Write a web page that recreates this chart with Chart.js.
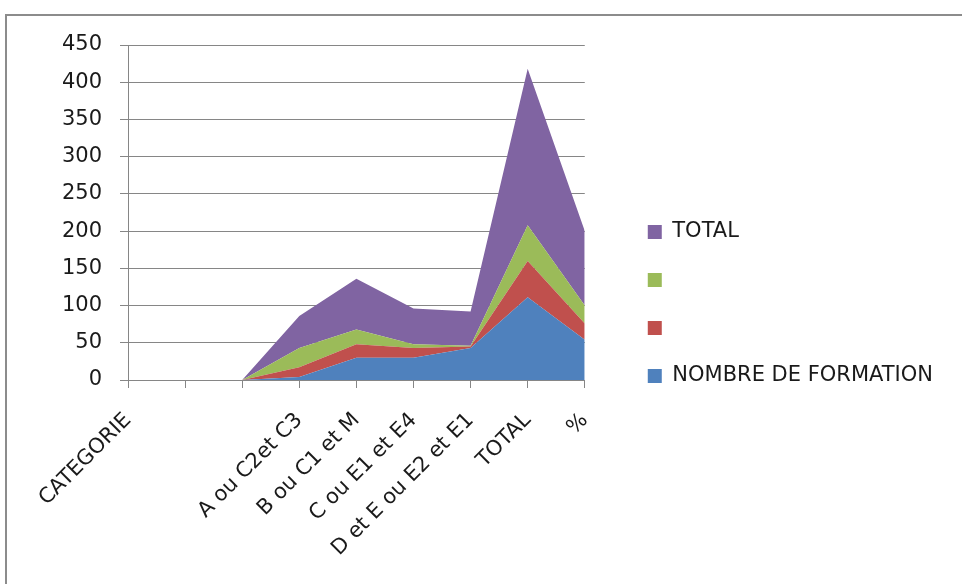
<!DOCTYPE html>
<html lang="fr">

<head>
    <meta charset="UTF-8">
    <meta name="viewport" content="width=device-width, initial-scale=1.0">
    <script src="https://cdn.jsdelivr.net/npm/chart.js"></script>
    <title>Formations par catégorie</title>
    <style>
        body {
            margin: 0;
            background: #fff;
            overflow: hidden;
        }

        .cadre {
            position: absolute;
            left: 5px;
            top: 14px;
            width: 1000px;
            height: 700px;
            border: 2px solid #8c8c8c;
        }

        .grafico {
            position: absolute;
            left: 0;
            top: 0;
            width: 962px;
            height: 584px;
        }
    </style>
</head>

<body>
    <div class="cadre"></div>
    <div class="grafico">
        <canvas id="formationChart" width="962" height="584"></canvas>
    </div>
</body>

</html>

<script>

    // données
    const categories = ['CATEGORIE', '', '', 'A ou C2et C3', 'B ou C1 et M', 'C ou E1 et E4', 'D et E ou E2 et E1', 'TOTAL', '%'];
    const nombreFormation = [0, 0, 0, 4, 30, 30, 43, 111, 54];
    const serieRouge = [0, 0, 0, 13, 18, 13, 2, 49, 22];
    const serieVerte = [0, 0, 0, 26, 20, 5, 1, 48, 24];
    const total = [0, 0, 0, 43, 68, 48, 46, 210, 100];
    const yTicks = [0, 50, 100, 150, 200, 250, 300, 350, 400, 450];

    const police = "'DejaVu Sans', sans-serif";
    const gris = '#868686';

    function aire(label, data, couleur, fill) {
        return {
            label: label,
            data: data,
            backgroundColor: couleur,
            borderColor: couleur,
            borderWidth: 0,
            pointRadius: 0,
            tension: 0,
            fill: fill
        };
    }

    const formationChart = new Chart(document.getElementById('formationChart'), {
        type: 'line',
        data: {
            labels: categories,
            datasets: [
                aire('NOMBRE DE FORMATION', nombreFormation, '#4f81bd', 'origin'),
                aire('', serieRouge, '#c0504d', '-1'),
                aire('', serieVerte, '#9bbb59', '-1'),
                aire('TOTAL', total, '#8064a2', '-1')
            ]
        },
        options: {
            responsive: false,
            animation: false,
            layout: {
                padding: { top: 24, right: 19, bottom: 0, left: 0 }
            },
            plugins: {
                title: {
                    display: true,
                    text: ' ',
                    font: { size: 10 },
                    padding: { top: 0, bottom: 9 }
                },
                tooltip: { enabled: false },
                legend: {
                    position: 'right',
                    reverse: true,
                    maxWidth: 400,
                    labels: {
                        color: '#1a1a1a',
                        font: { family: police, size: 21 },
                        boxWidth: 14,
                        boxHeight: 14,
                        padding: 27
                    }
                }
            },
            scales: {
                x: {
                    offset: false,
                    grid: {
                        drawOnChartArea: false,
                        color: gris,
                        tickLength: 8
                    },
                    border: { color: gris },
                    ticks: {
                        color: '#1a1a1a',
                        font: { family: police, size: 21 },
                        minRotation: 45,
                        maxRotation: 45,
                        autoSkip: false,
                        padding: 20
                    },
                    afterFit: (scale) => { scale.height = 204; }
                },
                y: {
                    stacked: true,
                    min: 0,
                    max: 450,
                    afterBuildTicks: (scale) => { scale.ticks = yTicks.map(v => ({ value: v })); },
                    grid: { color: gris, tickLength: 8 },
                    border: { color: gris },
                    ticks: {
                        color: '#1a1a1a',
                        font: { family: police, size: 21 },
                        padding: 18
                    },
                    afterFit: (scale) => { scale.width = 128; }
                },
                espace: {
                    type: 'linear',
                    position: 'right',
                    grid: { display: false },
                    border: { display: false },
                    ticks: { display: false },
                    afterFit: (scale) => { scale.width = 36; }
                }
            }
        }
    });

</script>
